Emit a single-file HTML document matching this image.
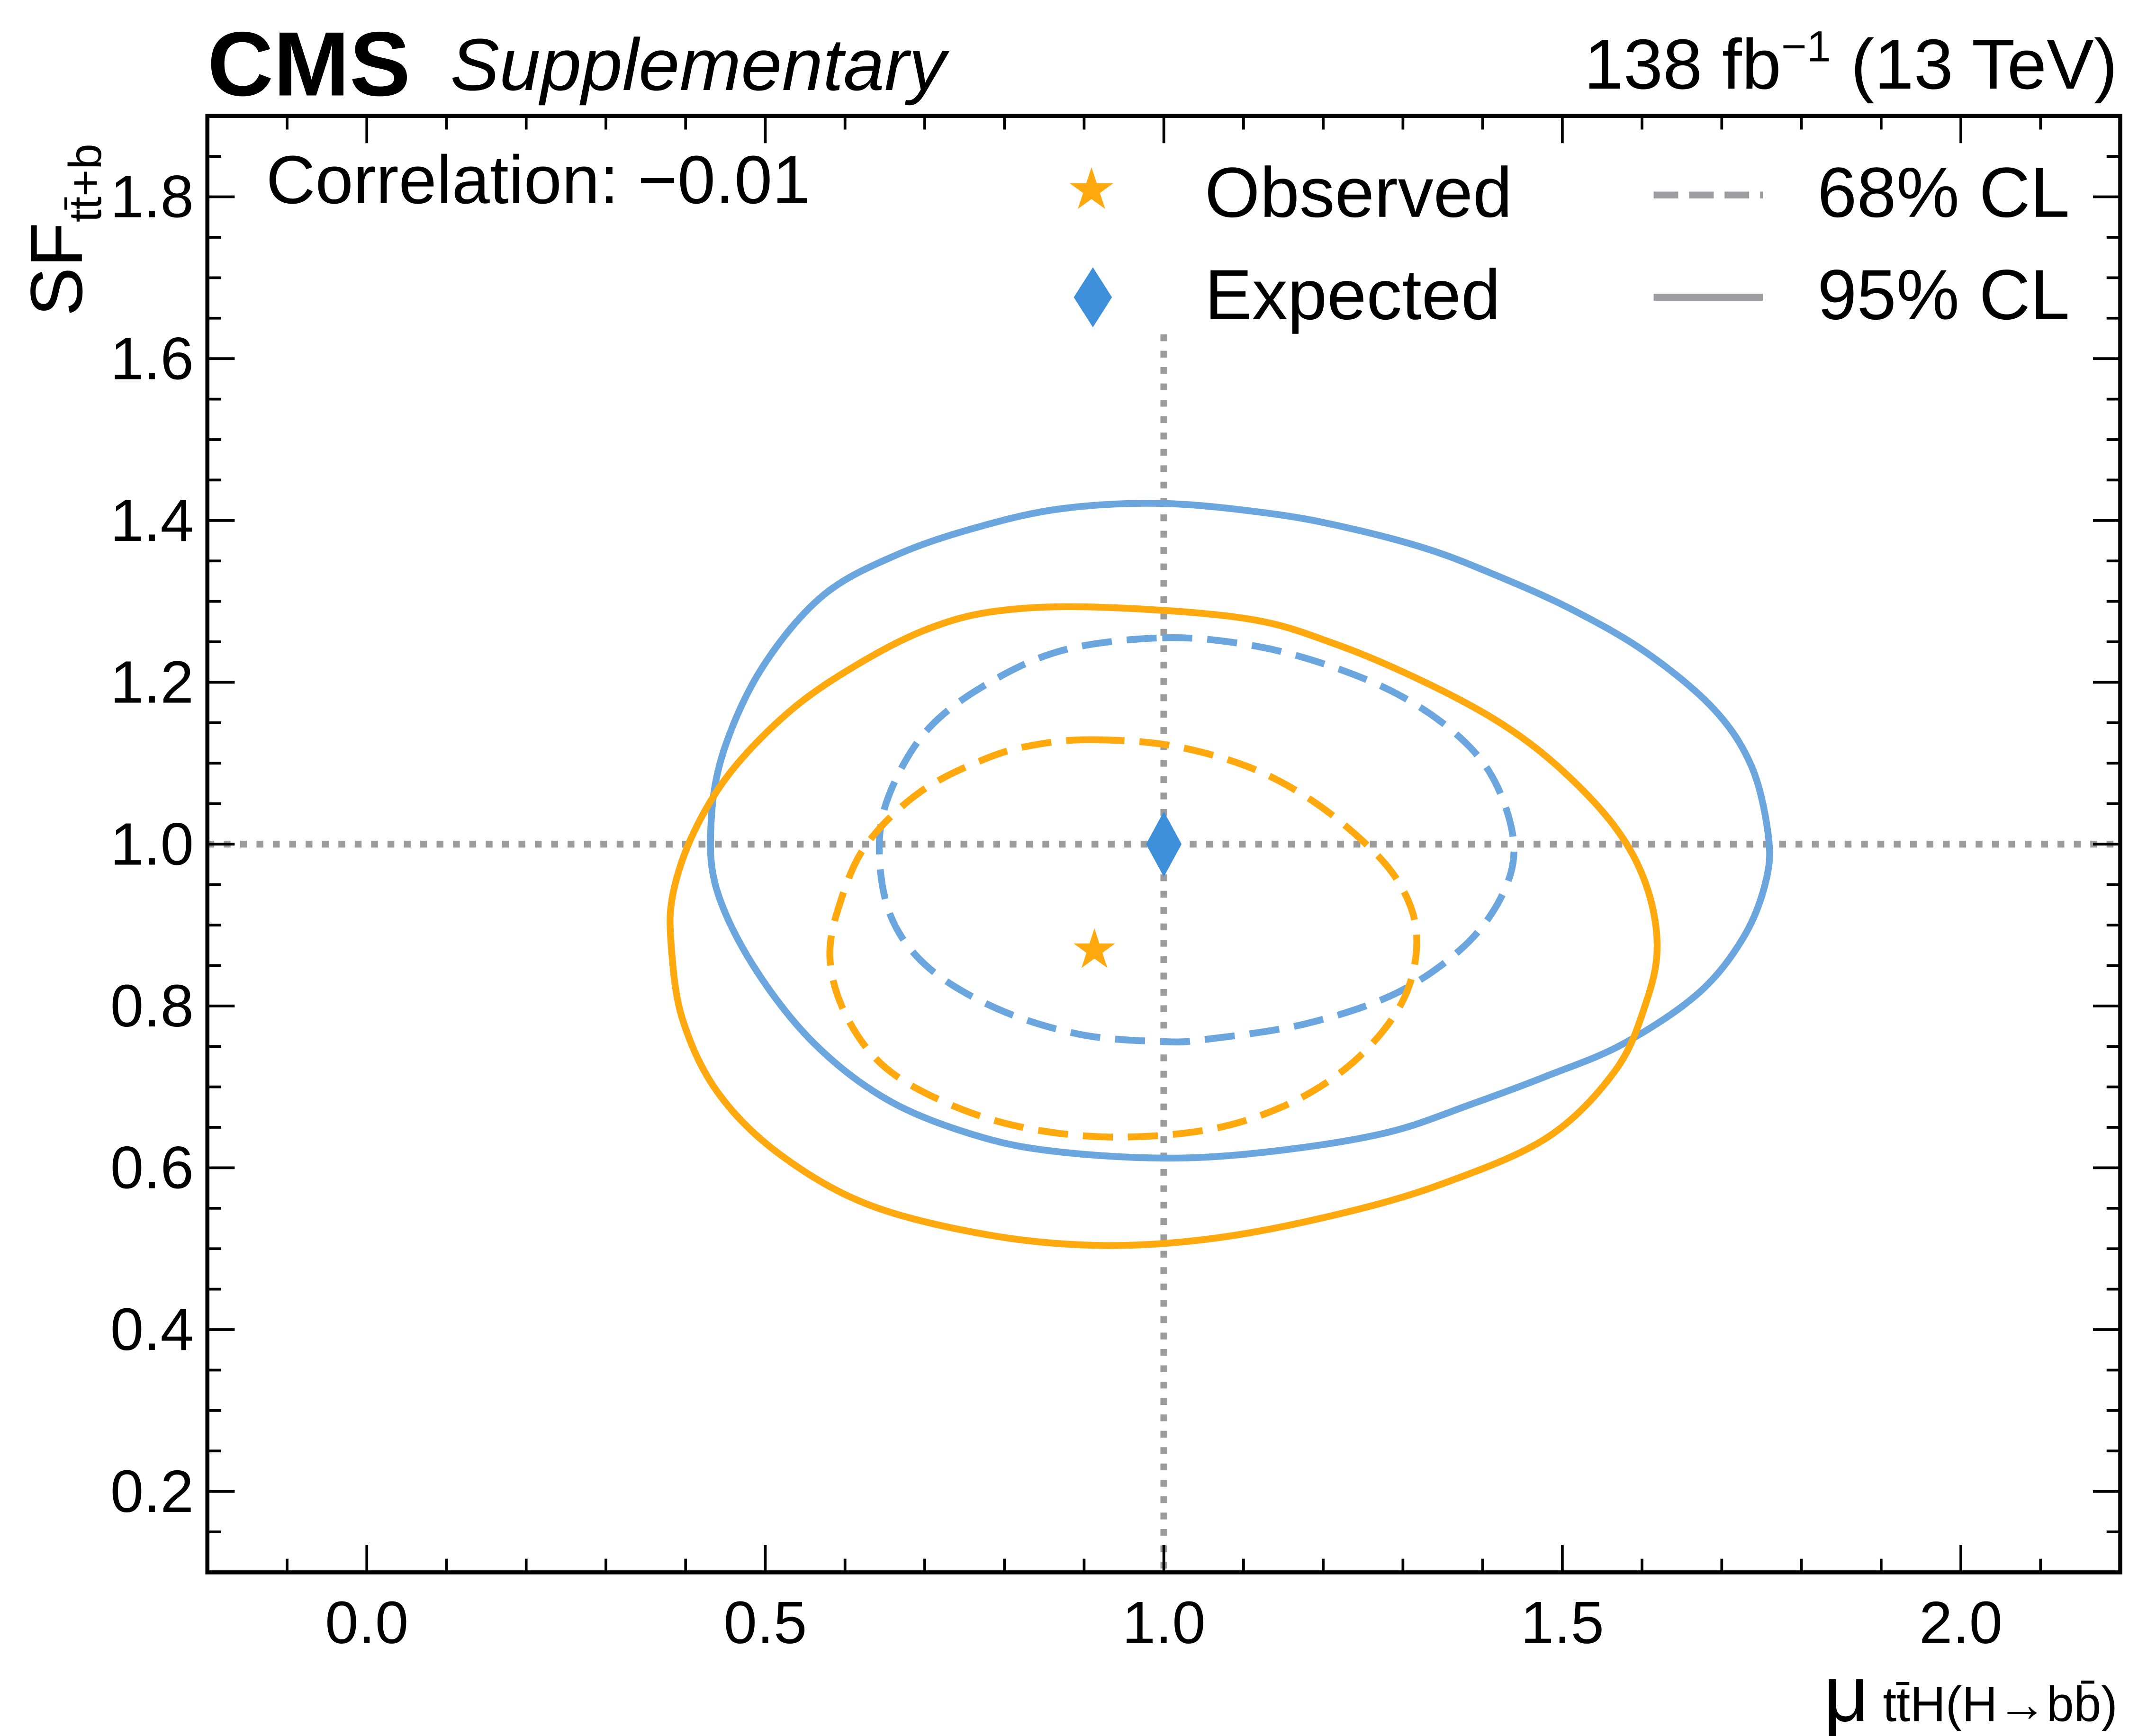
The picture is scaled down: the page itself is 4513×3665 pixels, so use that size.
<!DOCTYPE html>
<html><head><meta charset="utf-8"><style>
html,body{margin:0;padding:0;background:#fff;}
svg{display:block;font-family:"Liberation Sans",sans-serif;}
</style></head><body>
<svg id="chart" width="4513" height="3665" viewBox="0 0 1567 1273" preserveAspectRatio="none" xmlns="http://www.w3.org/2000/svg">
<rect x="0" y="0" width="1567" height="1273" fill="#fff"/>
<g id="marks"></g>
<g id="axes"></g>
<text x="152" y="70" font-size="67" font-weight="bold">CMS</text>
<text x="330" y="66" font-size="54" font-style="italic">Supplementary</text>
<text x="1552" y="65" font-size="52" text-anchor="end">138 fb<tspan dy="-20" font-size="32">−1</tspan><tspan dy="20"> (13 TeV)</tspan></text>
<text x="195" y="149" font-size="50">Correlation: −0.01</text>
<g>
<text x="800" y="153" font-size="42" fill="#FFA90E" text-anchor="middle">★</text>
<text x="883" y="159" font-size="52">Observed</text>
<path d="M801,196 L815,218 L801,240 L787,218 Z" fill="#3f90da"/>
<text x="883" y="234" font-size="52">Expected</text>
<line x1="1212" y1="143" x2="1292" y2="143" stroke="#9c9ca1" stroke-width="5" stroke-dasharray="18,8"/>
<text x="1332" y="159" font-size="52">68% CL</text>
<line x1="1212" y1="218" x2="1292" y2="218" stroke="#9c9ca1" stroke-width="5"/>
<text x="1332" y="234" font-size="52">95% CL</text>
</g>
<text transform="translate(60,232) rotate(-90)" font-size="54">SF<tspan dy="14" font-size="34">tt̄+b</tspan></text>
<text x="1552" y="1262" font-size="58" text-anchor="end">μ<tspan font-size="36"> tt̄H(H→bb̄)</tspan></text>
</svg>
<script>
const xTicks=[0.0,0.5,1.0,1.5,2.0];
const xTickLabels=["0.0","0.5","1.0","1.5","2.0"];
const yTicks=[0.2,0.4,0.6,0.8,1.0,1.2,1.4,1.6,1.8];
const yTickLabels=["0.2","0.4","0.6","0.8","1.0","1.2","1.4","1.6","1.8"];
const exp95x=[1.0,1.131,1.226,1.330,1.415,1.510,1.605,1.690,1.737,1.758,1.756,1.728,1.671,1.576,1.482,1.387,1.282,1.150,1.017,0.875,0.771,0.657,0.562,0.486,0.439,0.432,0.448,0.496,0.572,0.666,0.771,0.875];
const exp95y=[1.421,1.409,1.392,1.365,1.333,1.291,1.237,1.167,1.097,1.014,0.957,0.886,0.816,0.753,0.714,0.679,0.644,0.622,0.612,0.619,0.638,0.682,0.753,0.848,0.944,1.027,1.116,1.218,1.307,1.358,1.393,1.415];
const obs95x=[0.913,0.790,0.704,0.619,0.534,0.458,0.410,0.384,0.382,0.396,0.439,0.515,0.628,0.780,0.922,1.064,1.216,1.349,1.482,1.567,1.605,1.619,1.605,1.567,1.500,1.425,1.330,1.216,1.102];
const obs95y=[1.293,1.288,1.266,1.224,1.167,1.091,1.014,0.938,0.874,0.784,0.695,0.619,0.555,0.517,0.504,0.513,0.542,0.580,0.638,0.721,0.804,0.874,0.950,1.020,1.091,1.148,1.199,1.247,1.279];
const exp68x=[0.998,1.102,1.197,1.292,1.368,1.415,1.439,1.425,1.377,1.292,1.178,1.055,0.998,0.894,0.790,0.704,0.657,0.643,0.657,0.704,0.780,0.875];
const exp68y=[1.255,1.247,1.224,1.186,1.135,1.078,1.001,0.938,0.874,0.816,0.778,0.759,0.756,0.765,0.797,0.848,0.912,0.995,1.065,1.142,1.199,1.240];
const obs68x=[0.913,1.008,1.102,1.178,1.245,1.292,1.316,1.311,1.282,1.226,1.150,1.055,0.932,0.818,0.723,0.647,0.600,0.581,0.595,0.628,0.695,0.780,0.846];
const obs68y=[1.129,1.122,1.097,1.059,1.008,0.957,0.899,0.835,0.778,0.721,0.676,0.647,0.638,0.651,0.682,0.727,0.791,0.861,0.931,1.001,1.065,1.107,1.124];
const obsPoint=[0.913,0.871];
const expPoint=[1.0,1.0];

const L=152,R=1554,T=85,B=1153,X0=-0.2,X1=2.2,Y0=0.1,Y1=1.9;
const sx=v=>L+(v-X0)/(X1-X0)*(R-L);
const sy=v=>B-(v-Y0)/(Y1-Y0)*(B-T);
const NS="http://www.w3.org/2000/svg";
const marks=document.getElementById('marks'),axes=document.getElementById('axes');
function mk(tag,attrs,parent){const e=document.createElementNS(NS,tag);for(const k in attrs)e.setAttribute(k,attrs[k]);parent.appendChild(e);return e;}
function closedPath(xs,ys){
 const p=xs.map((x,i)=>[sx(x),sy(ys[i])]);const n=p.length;let d=`M${p[0][0]},${p[0][1]}`;
 for(let i=0;i<n;i++){const a=p[(i-1+n)%n],b=p[i],c=p[(i+1)%n],e=p[(i+2)%n];
  d+=` C${b[0]+(c[0]-a[0])/6},${b[1]+(c[1]-a[1])/6} ${c[0]-(e[0]-b[0])/6},${c[1]-(e[1]-b[1])/6} ${c[0]},${c[1]}`;}
 return d+'Z';}
const h=mk('line',{x1:L,x2:R,y1:sy(1),y2:sy(1),stroke:'#9c9c9c','stroke-width':5,'stroke-dasharray':'5,7'},marks);


const vl=mk('line',{x1:sx(1),x2:sx(1),y1:sy(1.63),y2:B,stroke:'#9c9c9c','stroke-width':5,'stroke-dasharray':'5,7'},marks);


const cs=[[exp95x,exp95y,'#6ca6de',null,'expected-95-contour'],[obs95x,obs95y,'#FFA90E',null,'observed-95-contour'],[exp68x,exp68y,'#6ca6de','22,11','expected-68-contour'],[obs68x,obs68y,'#FFA90E','22,11','observed-68-contour']];
cs.forEach(c=>{const a={d:closedPath(c[0],c[1]),fill:'none',stroke:c[2],'stroke-width':5};if(c[3])a['stroke-dasharray']=c[3];
 const e=mk('path',a,marks);
 
 });
const st=mk('text',{x:sx(obsPoint[0]),y:sy(obsPoint[1])+14,'font-size':40,fill:'#FFA90E','text-anchor':'middle'},marks);st.textContent='★';


const dx=sx(expPoint[0]),dy=sy(expPoint[1]);
const dm=mk('path',{d:`M${dx},${dy-24} L${dx+13},${dy} L${dx},${dy+24} L${dx-13},${dy} Z`,fill:'#3f90da'},marks);


const fr=mk('rect',{x:L,y:T,width:R-L,height:B-T,fill:'none',stroke:'#000','stroke-width':3},axes);


for(let i=-2;i<=22;i++){const val=i/10,x=sx(val);if(x<L||x>R)continue;const len=(i%5===0)?20:10;
 mk('line',{x1:x,x2:x,y1:B,y2:B-len,stroke:'#000','stroke-width':2},axes);
 mk('line',{x1:x,x2:x,y1:T,y2:T+len,stroke:'#000','stroke-width':2},axes);}
for(let i=2;i<=38;i++){const val=i/20,y=sy(val);if(y<T||y>B)continue;const len=(i%4===0)?20:10;
 mk('line',{x1:L,x2:L+len,y1:y,y2:y,stroke:'#000','stroke-width':2},axes);
 mk('line',{x1:R,x2:R-len,y1:y,y2:y,stroke:'#000','stroke-width':2},axes);}
xTicks.forEach((t,i)=>{const e=mk('text',{x:sx(t),y:B+52,'font-size':44,'text-anchor':'middle'},axes);e.textContent=xTickLabels[i];
 
 });
yTicks.forEach((t,i)=>{const e=mk('text',{x:L-10,y:sy(t)+15,'font-size':44,'text-anchor':'end'},axes);e.textContent=yTickLabels[i];
 
 });
</script>
</body></html>
